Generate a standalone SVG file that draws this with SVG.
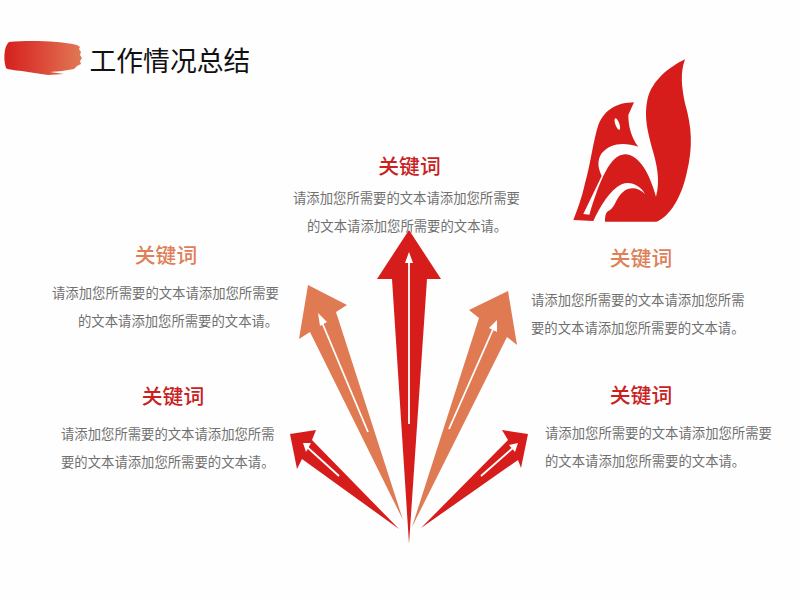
<svg xmlns="http://www.w3.org/2000/svg" width="800" height="600" viewBox="0 0 800 600">
<style>
text{font-family:"Noto Sans CJK SC","Noto Sans",sans-serif}
.t{font-size:26.8px;fill:#111}
.k{font-size:20.8px;text-anchor:middle;font-weight:500}
.r{fill:#c9211e}
.o{fill:#df7f58}
.b{font-size:13.35px;fill:#707070}
.ar{fill:#d71d1b}
.ao{fill:#df7a52}
.w{stroke:#fff;stroke-width:1.8;fill:none}
.wh{fill:#fff}
</style>
<defs>
<linearGradient id="g" x1="0" x2="1" y1="0" y2="0"><stop offset="0" stop-color="#d5201e"/><stop offset=".5" stop-color="#dc4a38"/><stop offset="1" stop-color="#e07a55"/></linearGradient>
</defs>
<rect width="800" height="600" fill="#fefefe"/>
<g id="header">
<path d="M9,42 C30,40 60,41 77,45 L80,47 L79,49 L81,52 L80,55 L82,58 L80,61 L81,64 L77,66 L74,69 L62,71 L50,72 L64,74 L48,75 L28,72 C16,70 8,70 6,68 C4,62 4,56 5,50 C6,46 7,44 9,42 Z" fill="url(#g)"/>
<text class="t" x="89.5" y="71">工作情况总结</text>
</g>
<g id="logo" transform="translate(560 50) scale(.3333)">
<path class="ar" d="M222,157 C175,158 135,175 115,225 C100,270 92,340 75,400 C65,445 52,480 40,510 L100,513 C120,470 150,420 185,403 C210,392 240,405 255,432 C235,412 210,410 190,425 C170,440 165,470 150,480 C140,485 135,490 135,515 L290,515 C330,500 365,440 380,370 C400,290 395,230 375,160 C365,110 360,70 375,28 C330,50 275,90 262,150 C252,200 262,240 275,290 C290,340 302,390 288,440 C270,375 240,315 195,313 C150,315 120,390 88,494 L70,492 L125,378 C112,350 112,330 125,310 C150,280 190,275 235,290 C215,265 205,230 205,195 Z"/>
<ellipse class="wh" cx="172" cy="222" rx="6" ry="18" transform="rotate(-20 172 222)"/>
</g>
<g id="node-top">
<text class="k r" x="409.500" y="174">关键词</text>
<text class="b" x="293" y="203">请添加您所需要的文本请添加您所需要</text>
<text class="b" x="307" y="231">的文本请添加您所需要的文本请。</text>
</g>
<g id="node-upper-left">
<text class="k o" x="166" y="263">关键词</text>
<text class="b" x="52" y="298">请添加您所需要的文本请添加您所需要</text>
<text class="b" x="78" y="326">的文本请添加您所需要的文本请。</text>
</g>
<g id="node-upper-right">
<text class="k o" x="641" y="266">关键词</text>
<text class="b" x="531" y="305">请添加您所需要的文本请添加您所需</text>
<text class="b" x="531" y="333">要的文本请添加您所需要的文本请。</text>
</g>
<g id="node-lower-left">
<text class="k r" x="173" y="404">关键词</text>
<text class="b" x="61" y="439">请添加您所需要的文本请添加您所需</text>
<text class="b" x="61" y="467">要的文本请添加您所需要的文本请。</text>
</g>
<g id="node-lower-right">
<text class="k r" x="641" y="403">关键词</text>
<text class="b" x="545" y="438">请添加您所需要的文本请添加您所需要</text>
<text class="b" x="545" y="466">的文本请添加您所需要的文本请。</text>
</g>
<g id="connectors">
<path class="ar" d="M409,230 L441,279 L427,279 L409,544 L392,279 L377,279 Z"/>
<path class="w" d="M409,260 V424"/><path class="wh" d="M409,252 L413,263 H405 Z"/>
<path class="ao" d="M308,285 L347,305 L336,312 L403,520 L310,332 L299,339 Z"/>
<path class="w" d="M321,320 L368,432"/><path class="wh" d="M318,313 L327,322 L320,326 Z"/>
<path class="ao" d="M508,291 L517,345 L507,337 L412,527 L479,318 L469,310 Z"/>
<path class="w" d="M494,327 L449,429"/><path class="wh" d="M497,320 L497,332 L489,328 Z"/>
<path class="ar" d="M290,434 L316,430 L312,440 L399,529 L302,459 L297,469 Z"/>
<path class="w" d="M307,447 L339,476"/><path class="wh" d="M303,443 L311,443 L306,452 Z"/>
<path class="ar" d="M528,434 L521,468 L518,460 L421,528 L508,440 L502,430 Z"/>
<path class="w" d="M514,447 L481,476"/><path class="wh" d="M518,443 L515,452 L509,445 Z"/>
</g>
</svg>
